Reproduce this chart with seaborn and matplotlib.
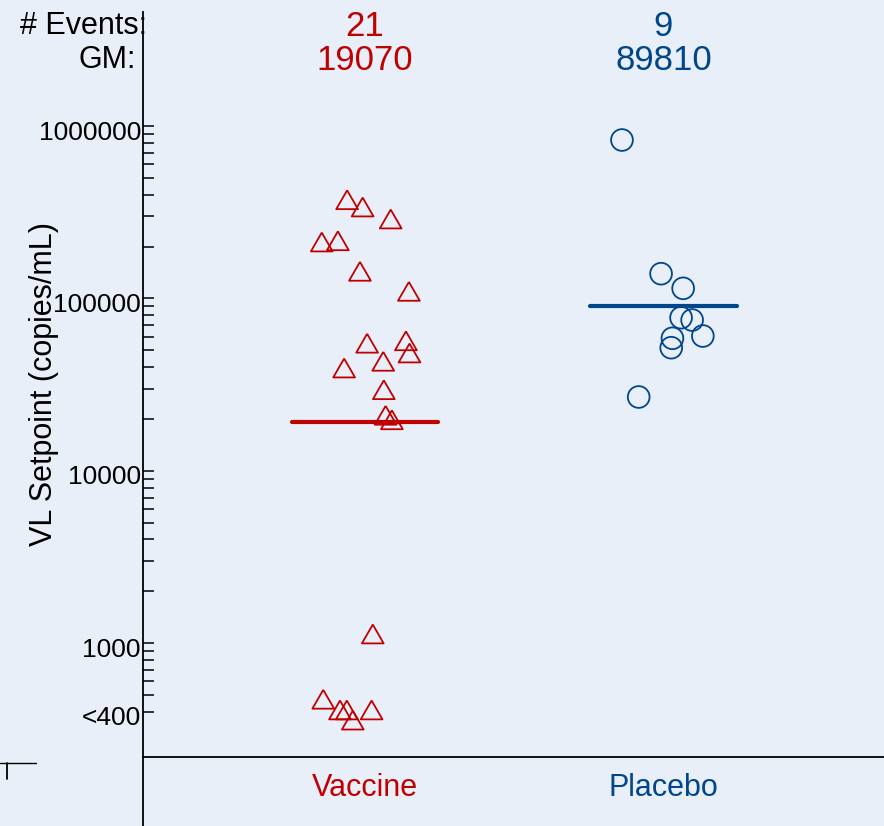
import numpy as np
import pandas as pd
import matplotlib
matplotlib.use("Agg")
import matplotlib.pyplot as plt
from matplotlib.transforms import ScaledTranslation
from matplotlib.lines import Line2D
import seaborn as sns

# ---------------- data ----------------
groups = ["Vaccine", "Placebo"]
n_events = [21, 9]
gm_values = [19070, 89810]

vaccine_vl = [373600, 339000, 288800, 212400, 215900, 143600, 109900,
              54960, 56760, 48240, 43170, 39470, 29540, 20990, 19760,
              1131, 473, 410, 410, 358, 410]
vaccine_jitter = [-0.060, -0.008, 0.086, -0.145, -0.091, -0.017, 0.147,
                  0.007, 0.137, 0.149, 0.061, -0.070, 0.063, 0.069, 0.090,
                  0.026, -0.140, -0.084, -0.061, -0.041, 0.022]

placebo_vl = [829500, 139100, 114400, 77300, 74940, 58700, 60520, 51760, 26800]
placebo_jitter = [-0.139, -0.008, 0.066, 0.059, 0.096, 0.030, 0.132, 0.026, -0.083]

ytick_values = [400, 1000, 10000, 100000, 1000000]
ytick_labels = ["<400", "1000", "10000", "100000", "1000000"]

# ---------------- style ----------------
BG = "#E9EFF9"
RED = "#C00000"
BLUE = "#00468B"
colors = [RED, BLUE]
W, H = 884, 826

sns.set_theme(style="white")
plt.rcParams["font.family"] = ["Liberation Sans", "DejaVu Sans"]

fig = plt.figure(figsize=(W / 100, H / 100), dpi=100, facecolor=BG)
ax_left, ax_right, ax_top, ax_bot = 143, 884, 12, 756.7
ax = fig.add_axes([ax_left / W, 1 - ax_bot / H, (ax_right - ax_left) / W, (ax_bot - ax_top) / H])
ax.set_facecolor(BG)

df = pd.DataFrame({
    "group": ["Vaccine"] * len(vaccine_vl) + ["Placebo"] * len(placebo_vl),
    "vl": vaccine_vl + placebo_vl,
    "jit": vaccine_jitter + placebo_jitter,
})
df["xpos"] = df["group"].map({g: i for i, g in enumerate(groups)}) + df["jit"]

tri = [(0, 0.866), (-1, -0.866), (1, -0.866), (0, 0.866)]
markers = [tri, "o"]
for i, g in enumerate(groups):
    sub = df[df["group"] == g]
    sns.scatterplot(data=sub, x="xpos", y="vl", marker=markers[i], s=245,
                    facecolor="none", edgecolor=colors[i], linewidth=1.3,
                    ax=ax, zorder=3, legend=False)
    ax.plot([i - 0.245, i + 0.245], [gm_values[i], gm_values[i]], color=colors[i],
            lw=3.0, solid_capstyle="round", zorder=4)

ax.set_yscale("log")
ax.set_ylim(219.6, 4.585e6)
ax.set_xlim(-0.744, 1.739)

ax.set_yticks(ytick_values)
ax.set_yticklabels(ytick_labels)
minor = [v * m for v in [100, 1000, 10000, 100000] for m in range(2, 10) if v * m > 400 and v * m < 1e6]
ax.set_yticks(minor, minor=True)
ax.yaxis.set_minor_formatter(matplotlib.ticker.NullFormatter())
ax.tick_params(axis="y", which="both", direction="in", length=8, width=1.1,
               color="black", labelcolor="black", labelsize=19, pad=1.5, left=True)
for lab in ax.get_yticklabels():
    lab.set_transform(lab.get_transform() + ScaledTranslation(0, -4 / 100, fig.dpi_scale_trans))

ax.set_xticks([0, 1])
ax.set_xticklabels(groups)
for lab, c in zip(ax.get_xticklabels(), colors):
    lab.set_color(c)
ax.tick_params(axis="x", length=0, labelsize=22, pad=12)
ax.set_xlabel("")
ax.set_ylabel("")

for s in ["top", "right"]:
    ax.spines[s].set_visible(False)
for s in ["left", "bottom"]:
    ax.spines[s].set_color("black")
    ax.spines[s].set_linewidth(1.3)

# left spine continues below the axis
fig.add_artist(Line2D([ax_left / W, ax_left / W], [0, 1 - ax_bot / H], color="black", lw=1.3,
                      transform=fig.transFigure))
# small mark at bottom left
fig.add_artist(Line2D([0 / W, 36 / W], [1 - 763.3 / H, 1 - 763.3 / H], color="black", lw=1.0,
                      transform=fig.transFigure))
fig.add_artist(Line2D([7.5 / W, 7.5 / W], [1 - 763.3 / H, 1 - 779 / H], color="black", lw=1.3,
                      transform=fig.transFigure))

# y label
fig.text(44 / W, 1 - 384.5 / H, "VL Setpoint (copies/mL)", rotation=90, ha="center", va="center",
         fontsize=22, color="black")

# header rows
fig.text(147 / W, 1 - 26 / H, "# Events:", ha="right", va="center", fontsize=22, color="black")
fig.text(136 / W, 1 - 60.5 / H, "GM:", ha="right", va="center", fontsize=22, color="black")
for i, g in enumerate(groups):
    xd = ax.transData.transform((i, 1000))[0]
    xf = fig.transFigure.inverted().transform((xd, 0))[0]
    fig.text(xf, 1 - 26 / H, str(n_events[i]), ha="center", va="center", fontsize=25, color=colors[i])
    fig.text(xf, 1 - 61 / H, str(gm_values[i]), ha="center", va="center", fontsize=25, color=colors[i])

fig.savefig("out.png", dpi=100, facecolor=BG)
